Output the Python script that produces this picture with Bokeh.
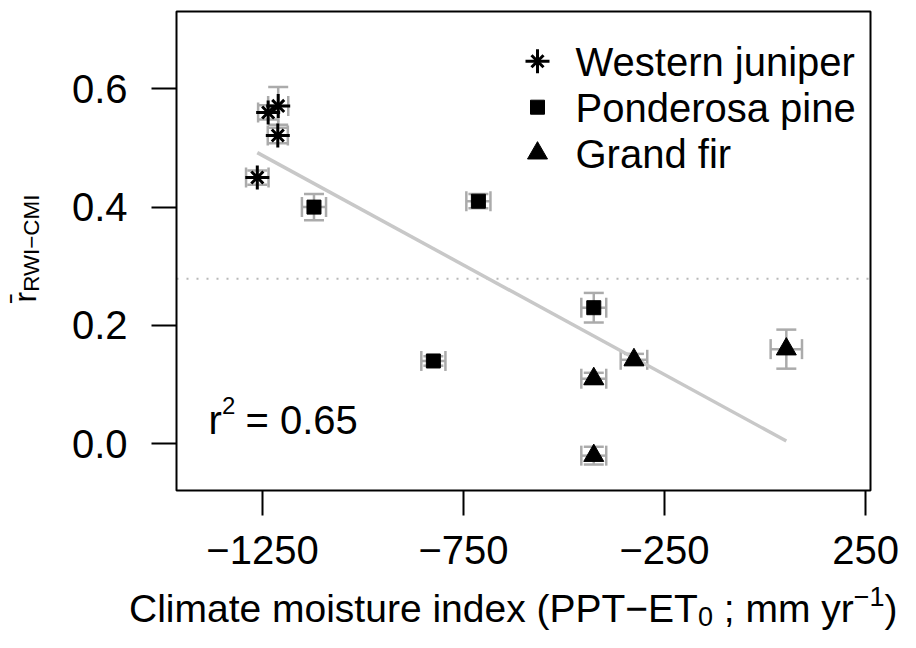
import numpy as np
from math import pi
from bokeh.plotting import figure
from bokeh.models import (Range1d, FixedTicker, Label, Whisker, TeeHead,
                          ColumnDataSource, LinearAxis, BoxAnnotation)
from bokeh.embed import file_html
from bokeh.resources import INLINE

# ---------------- data ----------------
juniper_cmi = [-1263, -1236, -1211, -1212]
juniper_r = [0.45, 0.56, 0.571, 0.521]
juniper_cmi_err = [28, 25, 25, 25]
juniper_r_err = [0.012, 0.012, 0.032, 0.013]

pine_cmi = [-1122, -713, -426, -825]
pine_r = [0.40, 0.41, 0.23, 0.14]
pine_cmi_err = [30, 30, 31, 30]
pine_r_err = [0.022, 0.012, 0.025, 0.008]

fir_cmi = [-426, -426, -326, 53]
fir_r = [0.11, -0.02, 0.142, 0.16]
fir_cmi_err = [31, 31, 33, 39]
fir_r_err = [0.010, 0.015, 0.010, 0.033]

species = ["Western juniper", "Ponderosa pine", "Grand fir"]
x_ticks = [-1250, -750, -250, 250]
x_tick_labels = ["\u22121250", "\u2212750", "\u2212250", "250"]
y_ticks = [0.0, 0.2, 0.4, 0.6]
y_tick_labels = ["0.0", "0.2", "0.4", "0.6"]
reference_r = 0.279
r2_value = "0.65"

# ---------------- layout ----------------
W, H = 900, 632
X0, X1 = -1464.0, 262.4      # plot box limits (data)
Y0, Y1 = -0.0789, 0.7306
BL, BR, BT, BB = 176, 870, 11, 490   # plot box edges in pixels
KX = (X1 - X0) / (BR - BL)
KY = (Y1 - Y0) / (BB - BT)
XS, XE = X0 - BL * KX, X1 + (W - BR) * KX
YE, YS = Y1 + BT * KY, Y0 - (H - BB) * KY
FONT = "Liberation Sans"
GRAY = "#ababab"
MID = 0.35   # observed offset of label anchor (fraction of font size)


def dx(px):
    return XS + px * KX


def dy(py):
    return YE - py * KY


p = figure(width=W, height=H, output_backend="svg", toolbar_location=None,
           x_range=Range1d(XS, XE), y_range=Range1d(YS, YE),
           x_axis_location=None, y_axis_location=None,
           min_border_left=0, min_border_right=0,
           min_border_top=0, min_border_bottom=0)
p.xgrid.visible = False
p.ygrid.visible = False
p.background_fill_color = "white"
p.border_fill_color = "white"
p.outline_line_color = None

xaxis = LinearAxis(fixed_location=Y0, ticker=FixedTicker(ticks=x_ticks),
                   major_label_overrides=dict(zip(x_ticks, x_tick_labels)))
yaxis = LinearAxis(fixed_location=X0, ticker=FixedTicker(ticks=y_ticks),
                   major_label_overrides=dict(zip(y_ticks, y_tick_labels)))
for ax in (xaxis, yaxis):
    ax.axis_line_color = None
    ax.major_tick_out = 25
    ax.major_tick_in = 0
    ax.minor_tick_out = 0
    ax.minor_tick_in = 0
    ax.major_tick_line_width = 2
    ax.major_tick_line_color = "black"
    ax.major_label_text_font = FONT
    ax.major_label_text_font_size = "40px"
    ax.major_label_text_color = "black"
xaxis.major_label_standoff = 20
yaxis.major_label_standoff = 24
yaxis.major_label_orientation = "horizontal"
p.add_layout(xaxis, "below")
p.add_layout(yaxis, "left")

# plot box
p.add_layout(BoxAnnotation(left=X0, right=X1, bottom=Y0, top=Y1,
                           fill_alpha=0, line_color="black", line_width=2,
                           line_alpha=1))

# reference dotted line across the box
p.line([X0, X1], [reference_r, reference_r], line_color="#b8b8b8",
       line_dash="2 8", line_width=2)

# error bars
all_x = juniper_cmi + pine_cmi + fir_cmi
all_y = juniper_r + pine_r + fir_r
all_xe = juniper_cmi_err + pine_cmi_err + fir_cmi_err
all_ye = juniper_r_err + pine_r_err + fir_r_err
ax_ = np.array(all_x, dtype=float)
ay_ = np.array(all_y, dtype=float)
axe = np.array(all_xe, dtype=float)
aye = np.array(all_ye, dtype=float)
err_src = ColumnDataSource(dict(x=ax_, y=ay_, ylo=ay_ - aye, yhi=ay_ + aye,
                                xlo=ax_ - axe, xhi=ax_ + axe))


def tee():
    return TeeHead(size=20, line_color=GRAY, line_width=2.5)


p.add_layout(Whisker(source=err_src, base="x", lower="ylo", upper="yhi",
                     dimension="height", line_color=GRAY, line_width=2.5,
                     lower_head=tee(), upper_head=tee()))
p.add_layout(Whisker(source=err_src, base="y", lower="xlo", upper="xhi",
                     dimension="width", line_color=GRAY, line_width=2.5,
                     lower_head=tee(), upper_head=tee()))

# regression line
slope, intercept = np.polyfit(ax_, ay_, 1)
xs = np.array([ax_.min(), ax_.max()])
p.line(xs, intercept + slope * xs, line_color="#c8c8c8", line_width=3.5)

# points
AST = dict(line_color="black", line_width=3)
p.scatter(juniper_cmi, juniper_r, marker="cross", size=24, **AST)
p.scatter(juniper_cmi, juniper_r, marker="x", size=17, **AST)
p.scatter(pine_cmi, pine_r, marker="square", size=14, fill_color="black",
          line_color="black", line_width=1)
p.scatter(fir_cmi, fir_r, marker="triangle", size=20, fill_color="black",
          line_color="black", line_width=1)


def add_text(txt, px, py, size, angle=0.0):
    """px, py: left end of the text's baseline, in pixels."""
    if angle == 0.0:
        py = py - MID * size
    else:
        px = px - MID * size
    p.add_layout(Label(x=dx(px), y=dy(py), text=txt, text_font=FONT,
                       text_font_size=f"{size}px", text_color="black",
                       angle=angle, text_align="left",
                       text_baseline="alphabetic"))


WID = {"C": 722, "l": 222, "i": 222, "m": 833, "a": 556, "t": 278, "e": 556,
       " ": 278, "o": 556, "s": 500, "u": 556, "r": 333, "n": 556, "d": 556,
       "x": 500, "(": 333, "P": 667, "T": 611, "\u2212": 584, "E": 667,
       "0": 556, ";": 278, "y": 500, "1": 556, ")": 333, "R": 722, "W": 944,
       "I": 278, "M": 833, "2": 556, "=": 584}


def tw(s, size):
    return sum(WID.get(c, 556) for c in s) / 1000.0 * size


# legend (drawn by hand)
leg_px, leg_text_px = 537, 575
leg_base = [75, 121, 167]
mk_y = [dy(b - 14.3) for b in leg_base]
p.scatter([dx(leg_px)], [mk_y[0]], marker="cross", size=24, **AST)
p.scatter([dx(leg_px)], [mk_y[0]], marker="x", size=17, **AST)
p.scatter([dx(leg_px)], [mk_y[1]], marker="square", size=14, fill_color="black",
          line_color="black", line_width=1)
p.scatter([dx(leg_px)], [mk_y[2]], marker="triangle", size=20, fill_color="black",
          line_color="black", line_width=1)
for name, b in zip(species, leg_base):
    add_text(name, leg_text_px, b, 40)

# r^2 annotation
add_text("r", 208, 433, 40)
add_text("2", 221.5, 413, 24)
add_text("= " + r2_value, 245, 433, 40)

# x-axis title built from pieces (subscript / superscript)
XL_SIZE = 39
pieces = [("Climate moisture index (PPT\u2212ET", XL_SIZE, 0),
          ("0", 27, 3),
          (" ; mm yr", XL_SIZE, 0),
          ("\u22121", 27, -17),
          (")", XL_SIZE, 0)]
xl_base = 622
total = sum(tw(t, s) for t, s, _ in pieces)
cur = 897 - total
for txt, sz, shift in pieces:
    lead = len(txt) - len(txt.lstrip(" "))
    add_text(txt.lstrip(" "), cur + tw(" " * lead, sz), xl_base + shift, sz)
    cur += tw(txt, sz)

# y-axis title: r-bar with subscript, rotated
add_text("r\u0304", 36, 302, 32, angle=pi / 2)
add_text("RWI\u2212CMI", 39, 302 - tw("r", 32), 22.4, angle=pi / 2)

open("out.html", "w").write(file_html(p, INLINE))
